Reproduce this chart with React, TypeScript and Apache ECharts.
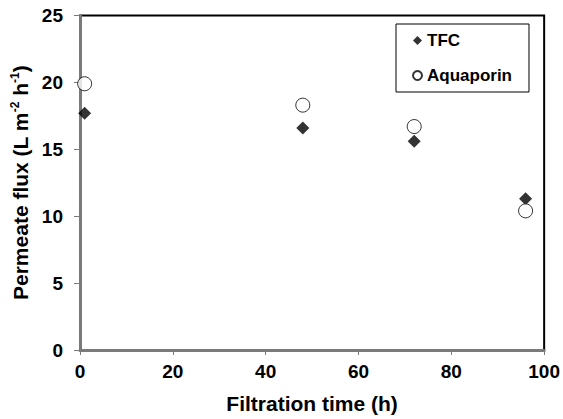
import React, { useEffect, useRef } from "react";
import * as echarts from "echarts";

const timeHours = [1, 48, 72, 96];
const tfcFlux = [17.7, 16.6, 15.6, 11.3];
const aquaporinFlux = [19.9, 18.3, 16.7, 10.4];
const seriesNames = ["TFC", "Aquaporin"];

const FONT = "'Liberation Sans', Arial, sans-serif";

export default function App() {
  const ref = useRef<HTMLDivElement>(null);
  useEffect(() => {
    if (!ref.current) return;
    const chart = echarts.init(ref.current, undefined, { renderer: "svg" });
    const axisGray = "#7a7a7a";
    chart.setOption({
      animation: false,
      backgroundColor: "#ffffff",
      grid: {
        left: 80,
        right: 16,
        top: 15.5,
        bottom: 68.5,
        show: true,
        borderColor: "#000000",
        borderWidth: 2,
        backgroundColor: "transparent",
      },
      legend: {
        orient: "vertical",
        left: 396,
        top: 24,
        padding: [8, 17, 8, 16],
        itemGap: 18,
        itemWidth: 9,
        itemHeight: 9,
        borderColor: "#000000",
        borderWidth: 1,
        backgroundColor: "#ffffff",
        textStyle: { fontFamily: FONT, fontWeight: "bold", fontSize: 17, color: "#000" },
        data: [
          { name: seriesNames[0], icon: "diamond" },
          { name: seriesNames[1], icon: "circle" },
        ],
      },
      xAxis: {
        type: "value",
        min: 0,
        max: 100,
        interval: 20,
        name: "Filtration time (h)",
        nameLocation: "middle",
        nameGap: 43,
        nameTextStyle: { fontFamily: FONT, fontWeight: "bold", fontSize: 21, color: "#000" },
        axisLine: { show: true, onZero: false, lineStyle: { color: axisGray, width: 3 } },
        axisTick: { show: true, length: 5, lineStyle: { color: axisGray, width: 1 } },
        axisLabel: { margin: 12, fontFamily: FONT, fontWeight: "bold", fontSize: 19, color: "#000" },
        splitLine: { show: false },
      },
      yAxis: {
        type: "value",
        min: 0,
        max: 25,
        interval: 5,
        name: "Permeate flux (L m{sup|-2} h{sup|-1})",
        nameLocation: "middle",
        nameGap: 41,
        nameTextStyle: {
          fontFamily: FONT,
          fontWeight: "bold",
          fontSize: 21,
          color: "#000",
          rich: {
            sup: {
              fontFamily: FONT,
              fontWeight: "bold",
              fontSize: 12,
              color: "#000",
              padding: [0, 0, 10, 0],
            },
          },
        },
        axisLine: { show: true, onZero: false, lineStyle: { color: axisGray, width: 3 } },
        axisTick: { show: true, length: 6, lineStyle: { color: axisGray, width: 1 } },
        axisLabel: { margin: 17, fontFamily: FONT, fontWeight: "bold", fontSize: 19, color: "#000" },
        splitLine: { show: false },
      },
      series: [
        {
          name: seriesNames[0],
          type: "scatter",
          symbol: "diamond",
          symbolSize: 13,
          itemStyle: { color: "#000000" },
          data: timeHours.map((t, i) => [t, tfcFlux[i]]),
          z: 3,
        },
        {
          name: seriesNames[1],
          type: "scatter",
          symbol: "circle",
          symbolSize: 14,
          itemStyle: { color: "#ffffff", borderColor: "#000000", borderWidth: 1 },
          data: timeHours.map((t, i) => [t, aquaporinFlux[i]]),
          z: 4,
        },
      ],
    });
    return () => chart.dispose();
  }, []);
  return <div ref={ref} style={{ width: 563, height: 419, position: "absolute", left: 0, top: 0 }} />;
}
